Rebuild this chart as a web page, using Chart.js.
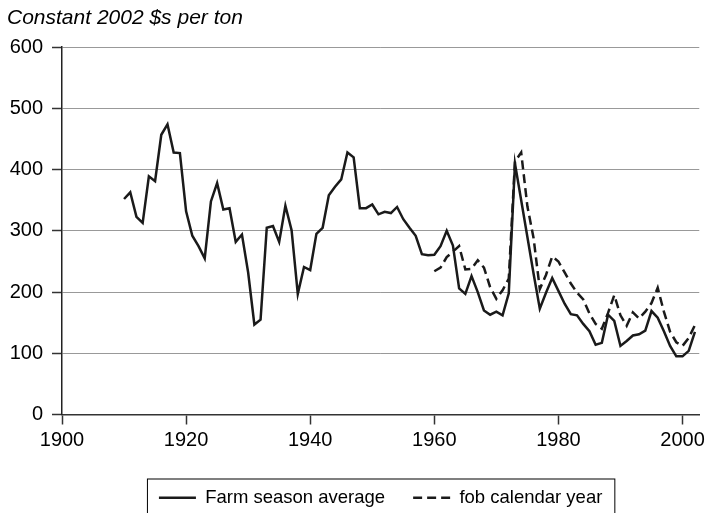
<!DOCTYPE html>
<html>
<head>
<meta charset="utf-8">
<script src="https://cdn.jsdelivr.net/npm/chart.js@4.4.0/dist/chart.umd.min.js"></script>
<style>
    html, body { margin: 0; padding: 0; background: #fff; }
</style>
</head>
<body>
<canvas id="myChart" width="709" height="513"></canvas>
<script>
const farmYears = [1910, 1911, 1912, 1913, 1914, 1915, 1916, 1917, 1918, 1919,
    1920, 1921, 1922, 1923, 1924, 1925, 1926, 1927, 1928, 1929,
    1930, 1931, 1932, 1933, 1934, 1935, 1936, 1937, 1938, 1939,
    1940, 1941, 1942, 1943, 1944, 1945, 1946, 1947, 1948, 1949,
    1950, 1951, 1952, 1953, 1954, 1955, 1956, 1957, 1958, 1959,
    1960, 1961, 1962, 1963, 1964, 1965, 1966, 1967, 1968, 1969,
    1970, 1971, 1972, 1973, 1974, 1975, 1976, 1977, 1978, 1979,
    1980, 1981, 1982, 1983, 1984, 1985, 1986, 1987, 1988, 1989,
    1990, 1991, 1992, 1993, 1994, 1995, 1996, 1997, 1998, 1999,
    2000, 2001, 2002];
const farmPrice = [352, 363, 323, 313, 389, 381, 457, 474, 428, 427,
    332, 292, 275, 255, 348, 378, 335, 337, 282, 294,
    232, 147, 155, 305, 308, 282, 341, 301, 197, 241,
    236, 295, 305, 358, 372, 384, 428, 420, 337, 337,
    343, 327, 331, 329, 339, 319, 305, 292, 262, 260,
    261, 275, 300, 276, 206, 197, 226, 200, 170, 163,
    168, 162, 198, 410, 350, 290, 230, 173, 199, 223,
    202, 181, 164, 162, 148, 136, 114, 117, 163, 153,
    112, 120, 129, 131, 137, 169, 158, 136, 112, 95,
    95, 104, 135];

const fobYears = [1960, 1961, 1962, 1963, 1964, 1965, 1966, 1967, 1968, 1969,
    1970, 1971, 1972, 1973, 1974, 1975, 1976, 1977, 1978, 1979,
    1980, 1981, 1982, 1983, 1984, 1985, 1986, 1987, 1988, 1989,
    1990, 1991, 1992, 1993, 1994, 1995, 1996, 1997, 1998, 1999,
    2000, 2001, 2002];
const fobPrice = [234, 240, 257, 266, 275, 237, 238, 252, 240, 208,
    189, 203, 222, 413, 428, 340, 288, 205, 228, 258,
    250, 232, 214, 199, 188, 165, 148, 140, 166, 195,
    162, 145, 167, 157, 168, 182, 207, 168, 135, 118,
    112, 125, 146];

const yTicks = [0, 100, 200, 300, 400, 500, 600];
const xTicks = [1900, 1920, 1940, 1960, 1980, 2000];

const FONT = "'Liberation Sans', Arial, Helvetica, sans-serif";

function toPoints(xs, ys) {
    return xs.map(function (x, i) {
        return { x: x, y: ys[i] };
    });
}

// box drawn round the legend items
const legendBorder = {
    id: 'legendBorder',
    afterDraw(chart) {
        const boxes = chart.legend.legendHitBoxes;
        if (!boxes || !boxes.length) return;
        const left = Math.min(...boxes.map(b => b.left));
        const right = Math.max(...boxes.map(b => b.left + b.width));
        const top = boxes[0].top;
        const ctx = chart.ctx;
        ctx.save();
        ctx.strokeStyle = '#000';
        ctx.lineWidth = 1;
        ctx.strokeRect(left - 11.5, top - 9.5, right - left + 24, 60);
        ctx.restore();
    }
};

const ctx = document.getElementById('myChart').getContext('2d');
const myChart = new Chart(ctx, {
    type: 'line',
    data: {
        datasets: [{
            label: 'Farm season average',
            data: toPoints(farmYears, farmPrice),
            borderColor: '#1a1a1a',
            borderWidth: 2.5,
            pointRadius: 0,
            tension: 0
        }, {
            label: 'fob calendar year',
            data: toPoints(fobYears, fobPrice),
            borderColor: '#1a1a1a',
            borderWidth: 2.5,
            borderDash: [9, 5],
            pointRadius: 0,
            tension: 0
        }]
    },
    options: {
        responsive: false,
        animation: false,
        layout: {
            padding: { left: 7, right: 9, top: 0, bottom: -4 }
        },
        plugins: {
            title: {
                display: true,
                text: 'Constant 2002 $s per ton',
                align: 'start',
                color: '#000',
                font: { family: FONT, size: 21, style: 'italic', weight: 'normal' },
                padding: { top: 6, bottom: 16 }
            },
            legend: {
                position: 'bottom',
                fullSize: false,
                labels: {
                    color: '#000',
                    font: { family: FONT, size: 18.5 },
                    usePointStyle: true,
                    pointStyle: 'line',
                    pointStyleWidth: 37,
                    padding: 28,
                    generateLabels: function (chart) {
                        const items = Chart.defaults.plugins.legend.labels.generateLabels(chart);
                        items.forEach(function (item) {
                            const ds = chart.data.datasets[item.datasetIndex];
                            item.lineDash = ds.borderDash || [];
                            item.lineWidth = ds.borderWidth;
                            item.strokeStyle = ds.borderColor;
                        });
                        return items;
                    }
                }
            },
            tooltip: { enabled: false }
        },
        scales: {
            x: {
                type: 'linear',
                min: 1900,
                max: 2002.7,
                afterBuildTicks: function (scale) {
                    scale.ticks = xTicks.map(v => ({ value: v }));
                },
                afterFit: function (scale) {
                    scale.height = 46;
                },
                ticks: {
                    color: '#000',
                    font: { family: FONT, size: 20 },
                    padding: 4,
                    maxRotation: 0,
                    callback: v => String(v)
                },
                grid: {
                    drawOnChartArea: false,
                    drawTicks: true,
                    tickLength: 10,
                    tickColor: '#333',
                    tickWidth: 1.5
                },
                border: { color: '#333', width: 1.5 }
            },
            y: {
                min: 0,
                max: 600,
                afterBuildTicks: function (scale) {
                    scale.ticks = yTicks.map(v => ({ value: v }));
                },
                afterFit: function (scale) {
                    scale.width = 55;
                },
                ticks: {
                    color: '#000',
                    font: { family: FONT, size: 20 },
                    padding: 9
                },
                grid: {
                    color: '#999',
                    lineWidth: 1,
                    drawTicks: true,
                    tickLength: 10,
                    tickColor: '#333',
                    tickWidth: 1.5
                },
                border: { color: '#222', width: 1.5 }
            }
        }
    },
    plugins: [legendBorder]
});
</script>
</body>
</html>
